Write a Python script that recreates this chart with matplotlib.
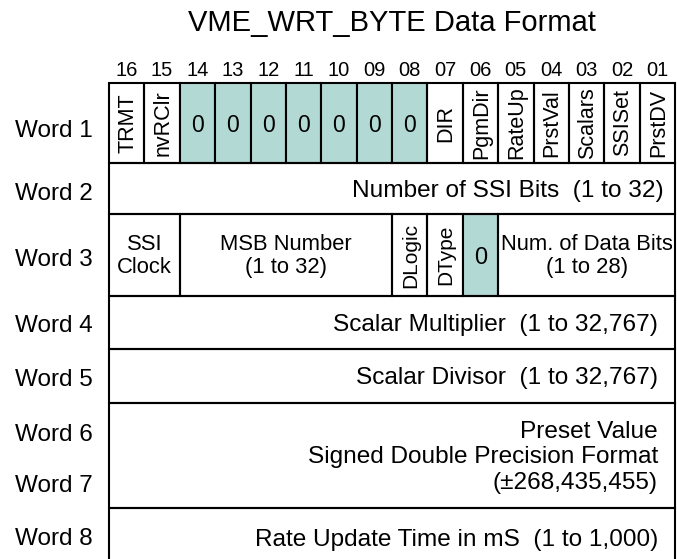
import matplotlib.pyplot as plt
from matplotlib.patches import Rectangle

plt.rcParams['font.family'] = ['Liberation Sans', 'DejaVu Sans']

title = "VME_WRT_BYTE Data Format"
bit_numbers = ["16", "15", "14", "13", "12", "11", "10", "09",
               "08", "07", "06", "05", "04", "03", "02", "01"]

# word 1: one field per bit, None -> shaded "0"
word1_fields = ["TRMT", "nvRClr", None, None, None, None, None, None,
                None, "DIR", "PgmDir", "RateUp", "PrstVal", "Scalars",
                "SSISet", "PrstDV"]

# word 3: (label, width in bits, kind)
word3_fields = [("SSI\nClock", 2, "text"),
                ("MSB Number\n(1 to 32)", 6, "text"),
                ("DLogic", 1, "rot"),
                ("DType", 1, "rot"),
                ("0", 1, "zero"),
                ("Num. of Data Bits\n(1 to 28)", 5, "text")]

row_labels = ["Word 1", "Word 2", "Word 3", "Word 4", "Word 5",
              "Word 6", "Word 7", "Word 8"]
full_rows = {1: "Number of SSI Bits  (1 to 32)",
             3: "Scalar Multiplier  (1 to 32,767)",
             4: "Scalar Divisor  (1 to 32,767)",
             5: "Preset Value\nSigned Double Precision Format\n(±268,435,455)",
             6: "Rate Update Time in mS  (1 to 1,000)"}

# layout (pixels)
W, H = 677, 559
x0, x1 = 109, 675
col_w = (x1 - x0) / 16
row_edges = [83, 163, 214, 296, 349, 403, 508, 566]
label_base = [137, 200, 266, 332, 386, 441, 492, 545]
text_right = {1: 664, 3: 658, 4: 658, 5: 658, 6: 658}
shade = "#b3d9d5"
lw = 1.5

fig = plt.figure(figsize=(W / 100, H / 100), dpi=100)
ax = fig.add_axes([0, 0, 1, 1])
ax.set_xlim(0, W)
ax.set_ylim(H, 0)
ax.axis("off")

ax.text((x0 + x1) / 2, 23, title, ha="center", va="center", fontsize=21)

for i, b in enumerate(bit_numbers):
    ax.text(x0 + (i + 0.5) * col_w, 71, b, ha="center", va="center", fontsize=14.5)

def cell(xa, xb, ya, yb, fill=None):
    ax.add_patch(Rectangle((xa, ya), xb - xa, yb - ya,
                           facecolor=fill if fill else "none",
                           edgecolor="black", linewidth=lw, clip_on=True))

# word 1
ya, yb = row_edges[0], row_edges[1]
for i, f in enumerate(word1_fields):
    xa, xb = x0 + i * col_w, x0 + (i + 1) * col_w
    if f is None:
        cell(xa, xb, ya, yb, shade)
        ax.text((xa + xb) / 2, (ya + yb) / 2 + 3, "0", ha="center",
                va="center", fontsize=16.5)
    else:
        cell(xa, xb, ya, yb)
        ax.text((xa + xb) / 2 + 1, (ya + yb) / 2, f, ha="center",
                va="center", rotation=90, fontsize=15.5)

# word 3
ya, yb = row_edges[2], row_edges[3]
pos = 0
for label, span, kind in word3_fields:
    xa, xb = x0 + pos * col_w, x0 + (pos + span) * col_w
    pos += span
    xc, yc = (xa + xb) / 2, (ya + yb) / 2
    if kind == "zero":
        cell(xa, xb, ya, yb, shade)
        ax.text(xc, yc + 3, label, ha="center", va="center", fontsize=17)
    elif kind == "rot":
        cell(xa, xb, ya, yb)
        ax.text(xc + 1, yc, label, ha="center", va="center", rotation=90,
                fontsize=15)
    else:
        cell(xa, xb, ya, yb)
        ax.text(xc, yc + 1, label, ha="center", va="center", fontsize=15.8,
                linespacing=1.17, multialignment="center")

# full-width rows
for r, txt in full_rows.items():
    ya, yb = row_edges[r], row_edges[r + 1]
    yc = (ya + yb) / 2 + 2
    if r == 6:
        yc = 540
    cell(x0, x1, ya, yb)
    ax.text(text_right[r], yc, txt, ha="right", va="center",
            fontsize=17.6, linespacing=1.22, multialignment="right")

# row labels
for lab, y in zip(row_labels, label_base):
    ax.text(15, y, lab, ha="left", va="baseline", fontsize=17.5)

fig.savefig("out.png", dpi=100)
